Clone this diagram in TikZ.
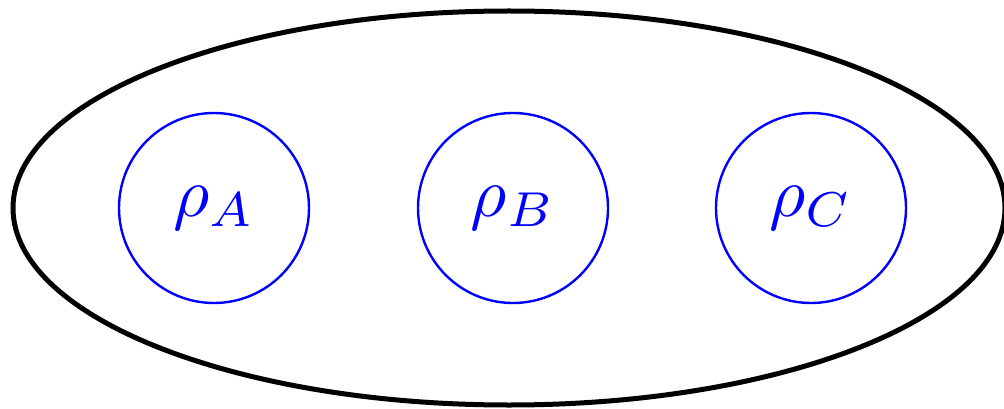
\documentclass[tikz,border=0pt]{standalone}
\usepackage{graphicx}
\usetikzlibrary{shapes.geometric}
\newcommand{\biglabel}[1]{\scalebox{7}{$#1$}}
\begin{document}
\begin{tikzpicture}[x=1pt,y=-1pt,
  outer/.style={ellipse,draw=black,line width=5pt,minimum width=992pt,minimum height=394pt,inner sep=0pt},
  sub/.style={circle,draw=blue,line width=2.4pt,minimum size=190pt,inner sep=0pt,text=blue}]
\useasboundingbox (0,0) rectangle (1004,409);
\node[outer] (e) at (509,208) {};
\node[sub] (a) at (214,208) {\biglabel{\rho_A}};
\node[sub] (b) at (513,208) {\biglabel{\rho_B}};
\node[sub] (c) at (811,208) {\biglabel{\rho_C}};
\end{tikzpicture}
\end{document}
